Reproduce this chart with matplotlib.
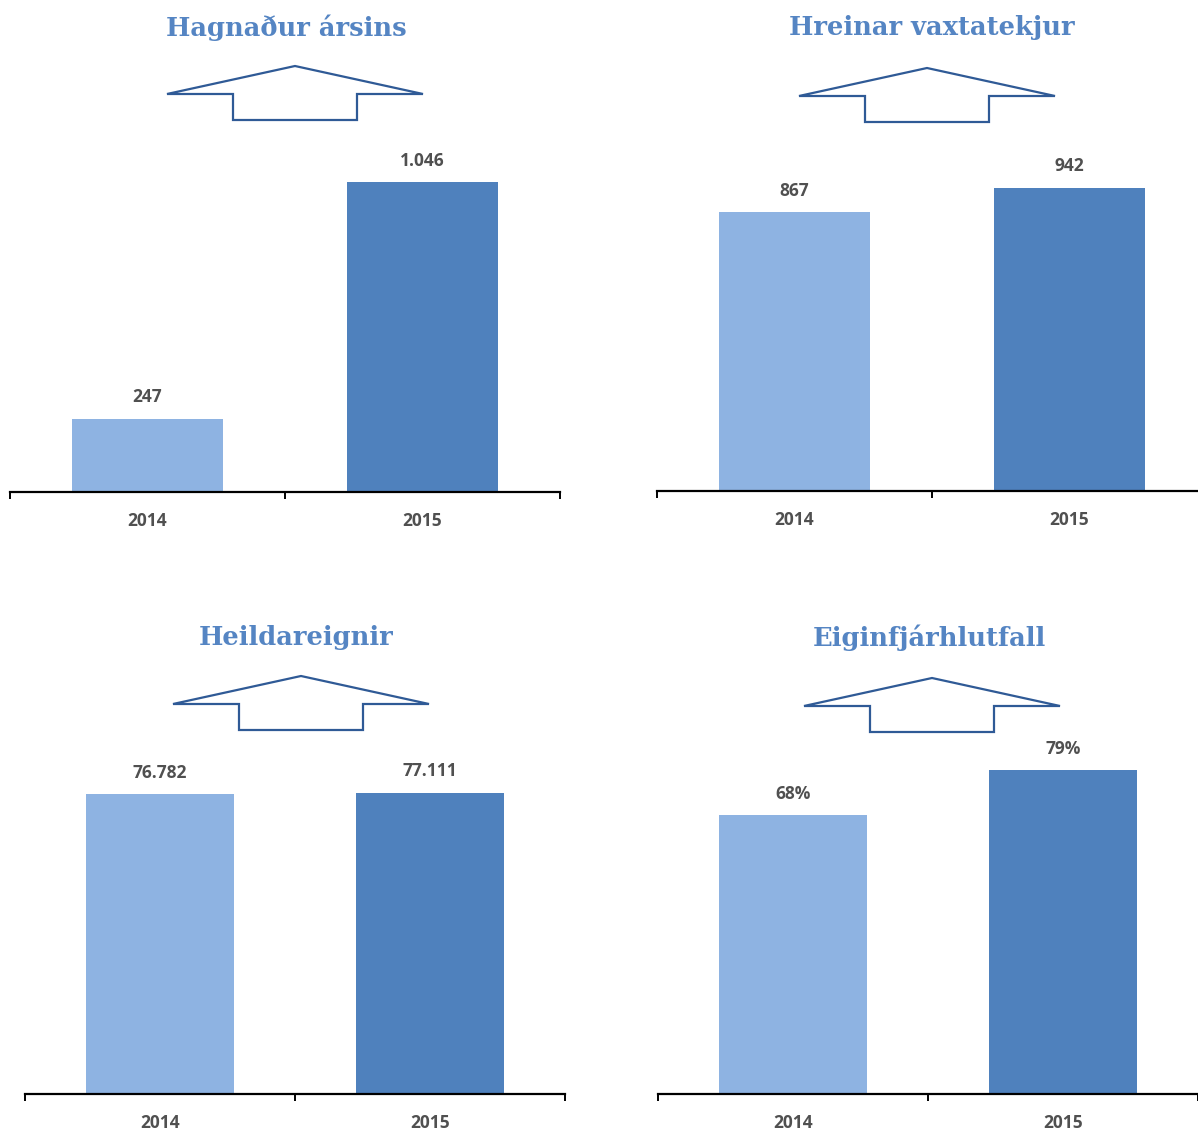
import matplotlib
matplotlib.use('Agg')
import numpy as np
import matplotlib.pyplot as plt
from matplotlib.patches import Polygon

# data
years = ['2014', '2015']
titles = ['Hagnaður ársins', 'Hreinar vaxtatekjur', 'Heildareignir', 'Eiginfjárhlutfall']
hagnadur = [247, 1046]
vaxtatekjur = [867, 942]
eignir = [76782, 77111]
eiginfe = [68, 79]
series = [hagnadur, vaxtatekjur, eignir, eiginfe]
is_pct = [False, False, False, True]

W, H = 1198, 1131
light = '#8EB3E2'
dark = '#4F81BD'
title_col = '#5585C3'
arrow_col = '#2F5A96'
txt_col = '#505050'

# panel layout in pixels: left, right, baseline y, top y, y-max, arrow centre x, arrow base y, title x, title y
panels = [
    (10, 560, 492, 140, 1188, 295, 94, 286, 28),
    (657, 1207, 491, 140, 1091, 927, 96, 932, 27),
    (25, 565, 1094, 750, 88127, 301, 704, 296, 638),
    (658, 1198, 1094, 750, 83.9, 932, 706, 929, 638),
]


def fmt(v, pct):
    s = '{:,}'.format(v).replace(',', '.')
    return s + '%' if pct else s


fig = plt.figure(figsize=(W / 100, H / 100), dpi=100)
ov = fig.add_axes([0, 0, 1, 1])
ov.set_xlim(0, W)
ov.set_ylim(H, 0)
ov.axis('off')

for i, (l, r, base, top, ymax, acx, aby, tx, ty) in enumerate(panels):
    ax = fig.add_axes([l / W, 1 - base / H, (r - l) / W, (base - top) / H])
    vals = series[i]
    ax.bar([0, 1], vals, width=0.55, color=[light, dark], zorder=2)
    ax.set_xlim(-0.5, 1.5)
    ax.set_ylim(0, ymax)
    for s in ['top', 'right', 'left']:
        ax.spines[s].set_visible(False)
    ax.spines['bottom'].set_linewidth(1.6)
    ax.spines['bottom'].set_color('black')
    ax.set_yticks([])
    ax.set_xticks([0, 1])
    ax.set_xticklabels(years, fontsize=12.5, fontweight='bold', color=txt_col,
                       family='Open Sans')
    ax.tick_params(axis='x', which='major', length=0, pad=14.5)
    ax.set_xticks([-0.5, 0.5, 1.5], minor=True)
    ax.tick_params(axis='x', which='minor', length=5, width=1.4, direction='out')
    for x, v in enumerate(vals):
        ax.annotate(fmt(v, is_pct[i]), (x, v), xytext=(0, 15.5), textcoords='offset points',
                    ha='center', va='center', fontsize=12.5, fontweight='bold',
                    color=txt_col, family='Open Sans')

    ov.text(tx, ty, titles[i], ha='center', va='center', fontsize=18.5, fontweight='bold',
            color=title_col, family='DejaVu Serif')
    # outlined up arrow
    pts = [(acx - 128, aby), (acx, aby - 28), (acx + 128, aby),
           (acx + 62, aby), (acx + 62, aby + 26), (acx - 62, aby + 26), (acx - 62, aby)]
    ov.add_patch(Polygon(pts, closed=True, facecolor='white', edgecolor=arrow_col,
                         linewidth=1.6, joinstyle='miter'))

fig.savefig('out.png', dpi=100)
